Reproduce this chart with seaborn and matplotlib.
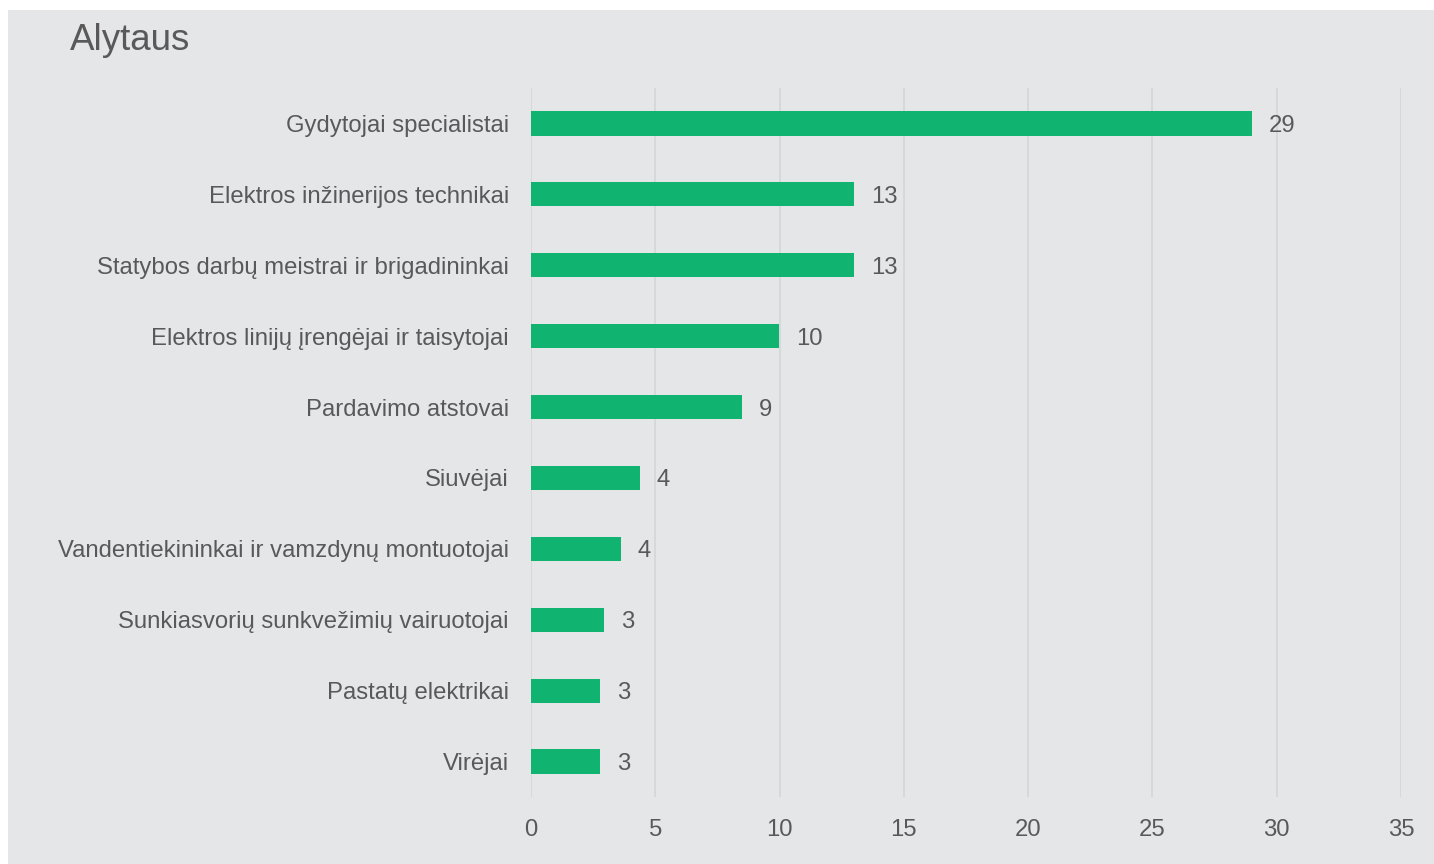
import matplotlib.pyplot as plt
import matplotlib.patches as patches
import seaborn as sns
import pandas as pd

# Data
occupations = [
    "Gydytojai specialistai",
    "Elektros inžinerijos technikai",
    "Statybos darbų meistrai ir brigadininkai",
    "Elektros linijų įrengėjai ir taisytojai",
    "Pardavimo atstovai",
    "Siuvėjai",
    "Vandentiekininkai ir vamzdynų montuotojai",
    "Sunkiasvorių sunkvežimių vairuotojai",
    "Pastatų elektrikai",
    "Virėjai",
]
values = [29.0, 13.0, 13.0, 9.98, 8.5, 4.38, 3.62, 2.94, 2.78, 2.78]
value_labels = ["29", "13", "13", "10", "9", "4", "4", "3", "3", "3"]
x_ticks = [0, 5, 10, 15, 20, 25, 30, 35]

df = pd.DataFrame({"occupation": occupations, "value": values})

bg = "#E5E6E8"
text_col = "#595959"
bar_col = "#10B370"
grid_col = "#D6D7D9"

sns.set_theme(style="white")
plt.rcParams["font.family"] = ["Liberation Sans", "DejaVu Sans"]

fig = plt.figure(figsize=(14.34, 8.64), dpi=100, facecolor="white")
# grey panel behind everything
fig.patches.append(patches.Rectangle((8 / 1434, 0), 1 - 8 / 1434, 1 - 10 / 864,
                                     transform=fig.transFigure, facecolor=bg,
                                     edgecolor="none", zorder=-10))

ax = fig.add_axes([531 / 1434, 1 - 797 / 864, (1401 - 531) / 1434, (797 - 88) / 864])
ax.set_facecolor("none")

sns.barplot(data=df, x="value", y="occupation", orient="h", color=bar_col,
            width=0.34, saturation=1, linewidth=0, ax=ax, zorder=3)

ax.set_xlim(0, 35)
ax.set_ylim(9.5, -0.5)
ax.set_xticks(x_ticks)
ax.set(xlabel="", ylabel="")

ax.grid(axis="x", color=grid_col, linewidth=1.3, zorder=0)
ax.grid(axis="y", visible=False)
ax.set_axisbelow(True)
for s in ax.spines.values():
    s.set_visible(False)

ax.tick_params(axis="y", length=0, pad=16, labelsize=17.2, labelcolor=text_col)
ax.tick_params(axis="x", length=0, pad=16, labelsize=17.2, labelcolor=text_col)

# value labels next to the bars
for container in ax.containers:
    texts = ax.bar_label(container, labels=value_labels, padding=12,
                         fontsize=17.2, color=text_col)
    for t in texts:
        t.set_va("center_baseline")

fig.text(70 / 1434, 1 - 40 / 864, "Alytaus", fontsize=26.5, color=text_col,
         ha="left", va="center")

fig.savefig("out.png", dpi=100, facecolor=fig.get_facecolor())
